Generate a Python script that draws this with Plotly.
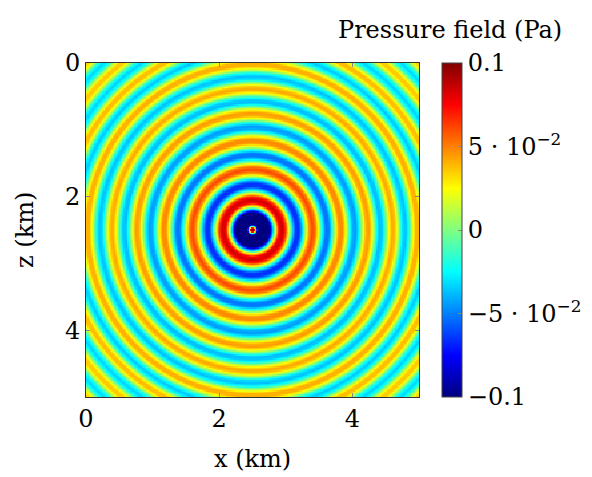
import numpy as np
import plotly.graph_objects as go

# Radial profile of the pressure field (Pa),
# sampled every 0.05 km from the source at (2.5 km, 2.5 km)
radius_km = [round(0.05 * i, 2) for i in range(73)]
pressure_pa = [
    0.20, 0.00, -0.16, -0.18, -0.16, -0.11, -0.05, 0.02, 0.075, 0.085,
    0.065, 0.02, -0.03, -0.065, -0.065, -0.035, 0.01, 0.045, 0.062, 0.05,
    0.015, -0.025, -0.052, -0.05, -0.02, 0.02, 0.047, 0.048, 0.025, -0.01,
    -0.04, -0.045, -0.025, 0.01, 0.04, 0.045, 0.025, -0.01, -0.038, -0.035,
    -0.01, 0.025, 0.043, 0.035, 0.005, -0.03, -0.038, -0.02, 0.015, 0.04,
    0.04, 0.015, -0.02, -0.037, -0.025, 0.01, 0.037, 0.038, 0.012, -0.022,
    -0.035, -0.022, 0.01, 0.035, 0.035, 0.01, -0.022, -0.034, -0.02, 0.012,
    0.034, 0.034, 0.01,
]
source_x = 2.5
source_z = 2.5
domain_km = 5.0
cell_km = 0.02

cb_tickvals = [0.1, 0.05, 0, -0.05, -0.1]
cb_ticktext = ["0.1", "5 · 10<sup>−2</sup>", "0", "−5 · 10<sup>−2</sup>", "−0.1"]
axis_ticks = [0, 2, 4]

n = int(round(domain_km / cell_km))
xs = (np.arange(n) + 0.5) * cell_km
zs = (np.arange(n) + 0.5) * cell_km
X, Z = np.meshgrid(xs, zs)
R = np.hypot(X - source_x, Z - source_z)
field = np.interp(R, radius_km, pressure_pa)

jet = [
    [0.0, "rgb(0,0,128)"],
    [0.125, "rgb(0,0,255)"],
    [0.375, "rgb(0,255,255)"],
    [0.625, "rgb(255,255,0)"],
    [0.875, "rgb(255,0,0)"],
    [1.0, "rgb(128,0,0)"],
]

FONT = "DejaVu Serif"
FS = 24
PW, PH = 333, 334  # plot area size in px

fig = go.Figure(
    go.Heatmap(
        x=xs, y=zs, z=field,
        colorscale=jet, zmin=-0.1, zmax=0.1,
        colorbar=dict(
            thickness=20, len=1.0, lenmode="fraction",
            x=(442 - 86) / PW, xanchor="left", xpad=0,
            y=0.5, yanchor="middle", ypad=0,
            tickvals=cb_tickvals, ticktext=cb_ticktext,
            ticks="inside", ticklen=4, tickcolor="#888",
            outlinecolor="#444", outlinewidth=1,
            tickfont=dict(family=FONT, size=FS, color="black"),
        ),
        hoverinfo="skip",
    )
)

axis_common = dict(
    tickvals=axis_ticks,
    ticks="inside", ticklen=4, tickcolor="#888",
    showline=True, linecolor="#333", linewidth=1, mirror="ticks",
    showgrid=False, zeroline=False,
    tickfont=dict(family=FONT, size=FS, color="black"),
)

# page body has an 8px margin, so the figure is offset by 8px
fig.update_layout(
    width=584, height=469,
    margin=dict(l=78, r=584 - 78 - PW, t=55, b=469 - 55 - PH, autoexpand=False),
    paper_bgcolor="white", plot_bgcolor="white",
    xaxis=dict(range=[0, 5], **axis_common),
    yaxis=dict(range=[5, 0], **axis_common),
    annotations=[
        dict(text="x (km)", x=0.5, y=(397 - 459) / PH, xref="paper", yref="paper",
             xanchor="center", yanchor="middle", showarrow=False,
             font=dict(family=FONT, size=FS, color="black")),
        dict(text="z (km)", x=(25 - 86) / PW, y=0.5, xref="paper", yref="paper",
             xanchor="center", yanchor="middle", textangle=-90, showarrow=False,
             font=dict(family=FONT, size=FS, color="black")),
        dict(text="Pressure field (Pa)", x=(450 - 86) / PW, y=(397 - 30) / PH,
             xref="paper", yref="paper", xanchor="center", yanchor="middle",
             showarrow=False, font=dict(family=FONT, size=FS, color="black")),
    ],
)

fig.write_html("out.html")
